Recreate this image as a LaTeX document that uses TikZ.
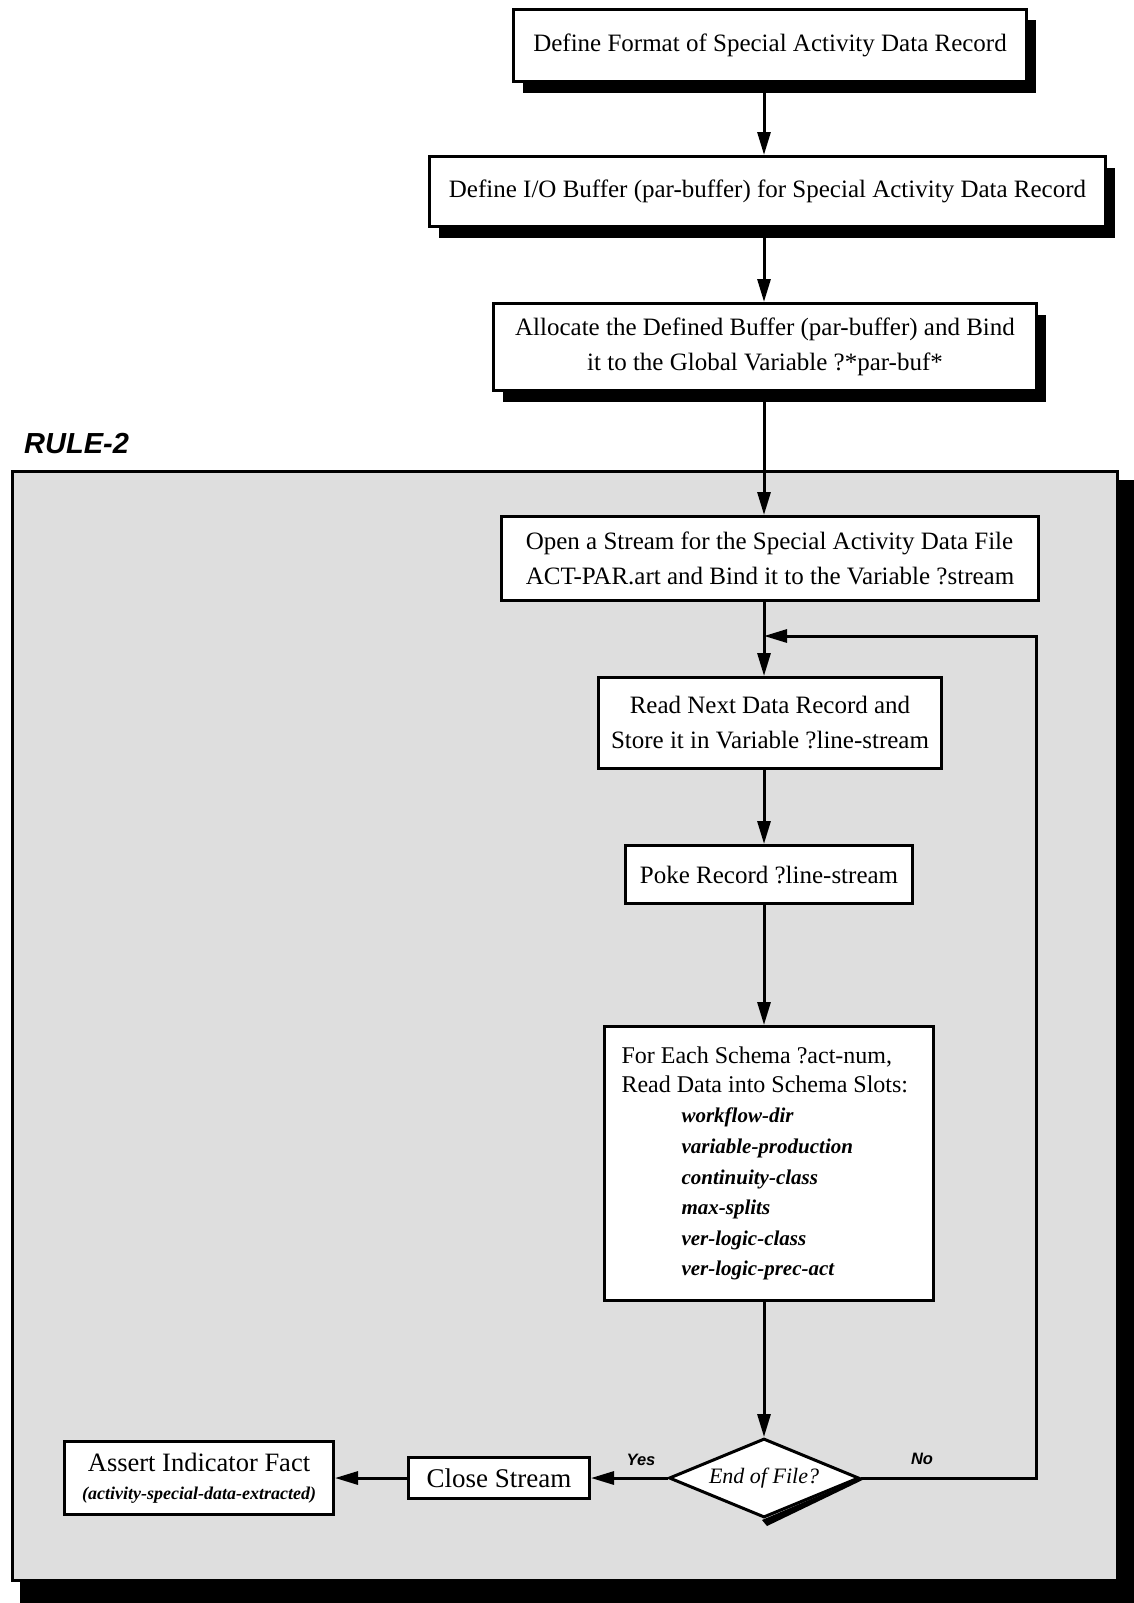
\documentclass[tikz,border=0pt]{standalone}
\usepackage{fontspec}
\setmainfont{Liberation Serif}
\newfontfamily\labelsans{Liberation Sans}
\usetikzlibrary{arrows.meta,shapes.geometric,shadows,calc}

\begin{document}
\begin{tikzpicture}[x=1pt,y=-1pt,
  box/.style={draw, line width=3pt, fill=white, inner sep=0pt, align=center,
    font=\fontsize{25}{35}\selectfont},
  shadowed/.style={drop shadow={shadow xshift=9pt, shadow yshift=-11pt,
    opacity=1, fill=black}},
  flow/.style={line width=3pt, -{Triangle[length=23pt,width=13pt]}},
  answer/.style={font=\labelsans\bfseries\itshape\fontsize{16.5}{18}\selectfont,
    anchor=base, inner sep=0pt},
]
\useasboundingbox (0,0) rectangle (1134,1603);

% RULE-2 panel with its heavy shadow
\fill[black] (1114,480) -- (1134,480) -- (1134,1603) -- (20,1603)
  -- (20,1578) -- (1114,1578) -- cycle;
\draw[line width=3pt, fill=black!13] (12,471) rectangle (1117,1580);
\node[font=\labelsans\bfseries\itshape\fontsize{29}{32}\selectfont,
  anchor=base west, inner sep=0pt] (rulename) at (24,453) {RULE-2};

% vertical axis of the main flow
\coordinate (spine) at (764,0);

% steps
\node[box, shadowed, minimum width=513, minimum height=72] (fmt) at (770,45.5)
  {Define Format of Special Activity Data Record};
\node[box, shadowed, minimum width=676, minimum height=70] (iobuf) at (767.5,191.5)
  {Define I/O Buffer (par-buffer) for Special Activity Data Record};
\node[box, shadowed, minimum width=543, minimum height=87] (alloc) at (765,347)
  {Allocate the Defined Buffer (par-buffer) and Bind\\it to the Global Variable ?*par-buf*};
\node[box, align=left, minimum width=537, minimum height=84] (open) at (770,558.5)
  {Open a Stream for the Special Activity Data File\\ACT-PAR.art and Bind it to the Variable ?stream};
\node[box, minimum width=343, minimum height=91] (readrec) at (770,723)
  {Read Next Data Record and\\Store it in Variable ?line-stream};
\node[box, minimum width=287, minimum height=58] (poke) at (769,874.5)
  {Poke Record ?line-stream};
\node[box, minimum width=329, minimum height=274] (schema) at (769,1163.5)
  {\parbox{295pt}{\raggedright\fontsize{24}{29}\selectfont
    For Each Schema ?act-num,\\Read Data into Schema Slots:\par
    \fontsize{21}{30.6}\selectfont\bfseries\itshape\leftskip=60pt
    workflow-dir\\variable-production\\continuity-class\\max-splits\\
    ver-logic-class\\ver-logic-prec-act\par}};
\node[draw, diamond, aspect=2.4, line width=3pt, fill=white, inner sep=0pt,
  minimum width=190, minimum height=79,
  font=\itshape\fontsize{22}{24}\selectfont] (eof) at (764,1478) {End of File?};
% heavy edge on the lower right side of the decision
\fill[black] (eof.east) -- ($(eof.east)+(3,1.5)$) -- ($(eof.south)+(3,7)$)
  -- ($(eof.south)+(-2,1)$) -- cycle;
\node[box, minimum width=181, minimum height=41,
  font=\fontsize{27}{30}\selectfont] (close) at (499,1478) {Close Stream};
\node[box, minimum width=269, minimum height=73,
  font=\fontsize{26.5}{28}\selectfont] (assert) at (199,1478)
  {Assert Indicator Fact\\{\fontsize{18}{20}\selectfont\bfseries\itshape (activity-special-data-extracted)}};

% connectors
\draw[flow] (fmt.south -| spine) -- (iobuf.north -| spine);
\draw[flow] (iobuf.south -| spine) -- (alloc.north -| spine);
\draw[flow] (alloc.south -| spine) -- (open.north -| spine);
\draw[flow] (open.south -| spine) -- (readrec.north -| spine);
\draw[flow] (readrec.south -| spine) -- (poke.north -| spine);
\draw[flow] (poke.south -| spine) -- (schema.north -| spine);
\draw[flow] (schema.south -| spine) -- (eof.north);
\draw[flow] (eof.west) -- (close.east);
\draw[flow] (close.west) -- (assert.east);
\coordinate (loopcorner) at (1036,636);
\draw[flow] (eof.east) -| (loopcorner) -- (loopcorner -| spine);

% branch labels
\node[answer] (yes) at (641,1465) {Yes};
\node[answer] (no) at (922,1464) {No};
\end{tikzpicture}
\end{document}
